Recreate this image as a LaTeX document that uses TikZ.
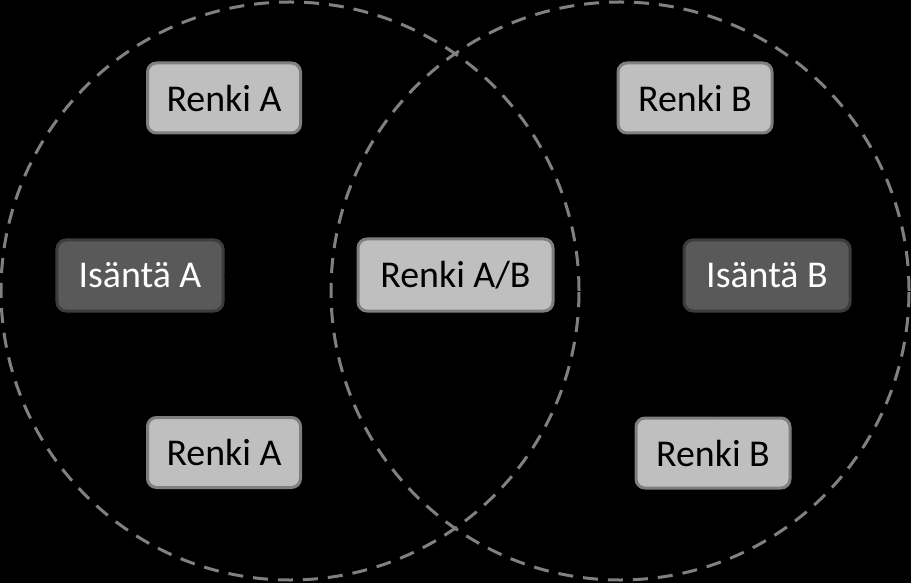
\documentclass[tikz,border=0pt]{standalone}
\usepackage{fontspec}
\setmainfont{Carlito}
\usetikzlibrary{calc,arrows.meta}
\definecolor{ringgray}{RGB}{128,128,128}
\definecolor{lightfill}{RGB}{191,191,191}
\definecolor{lightedge}{RGB}{127,127,127}
\definecolor{darkfill}{RGB}{89,89,89}
\definecolor{darkedge}{RGB}{60,60,60}
\tikzset{
  ring/.style={draw=ringgray, line width=3bp, dash pattern=on 15bp off 10bp},
  rengas/.style={draw=lightedge, fill=lightfill, line width=3bp, rounded corners=9bp,
    minimum height=70bp, inner sep=0pt, text=black, font=\fontsize{38}{42}\selectfont},
  isanta/.style={draw=darkedge, fill=darkfill, line width=3bp, rounded corners=9bp,
    minimum height=71bp, minimum width=166bp, inner sep=0pt, text=white, font=\fontsize{38}{42}\selectfont},
  link/.style={draw=black, line width=2bp, -{Triangle[length=6bp,width=7bp]}}
}
\begin{document}
\begin{tikzpicture}[x=1bp,y=-1bp]
\fill[black] (0,0) rectangle (911,583);
\useasboundingbox (0,0) rectangle (911,583);
\draw[ring] (290,291) circle[radius=289bp];
\draw[ring] (620,291) circle[radius=289bp];
\node[rengas, minimum width=153bp] (rA1) at (224,98) {Renki A};
\node[isanta] (iA) at (140,275.5) {Isäntä A};
\node[rengas, minimum width=195bp, minimum height=72bp] (rAB) at (455.5,275) {Renki A/B};
\node[rengas, minimum width=153bp] (rA2) at (224,452.5) {Renki A};
\node[rengas, minimum width=154bp] (rB1) at (695,98) {Renki B};
\node[isanta] (iB) at (767,275.5) {Isäntä B};
\node[rengas, minimum width=154bp] (rB2) at (713,453) {Renki B};
\draw[link] (iA.north) |- ($(iA.north)!0.5!(rA1.south)$) -| (rA1.south);
\draw[link] (iA.south) |- ($(iA.south)!0.5!(rA2.north)$) -| (rA2.north);
\draw[link] (iA.east) -- (rAB.west);
\draw[link] (iB.north) |- ($(iB.north)!0.5!(rB1.south)$) -| (rB1.south);
\draw[link] (iB.south) |- ($(iB.south)!0.5!(rB2.north)$) -| (rB2.north);
\draw[link] (iB.west) -- (rAB.east);
\end{tikzpicture}
\end{document}
